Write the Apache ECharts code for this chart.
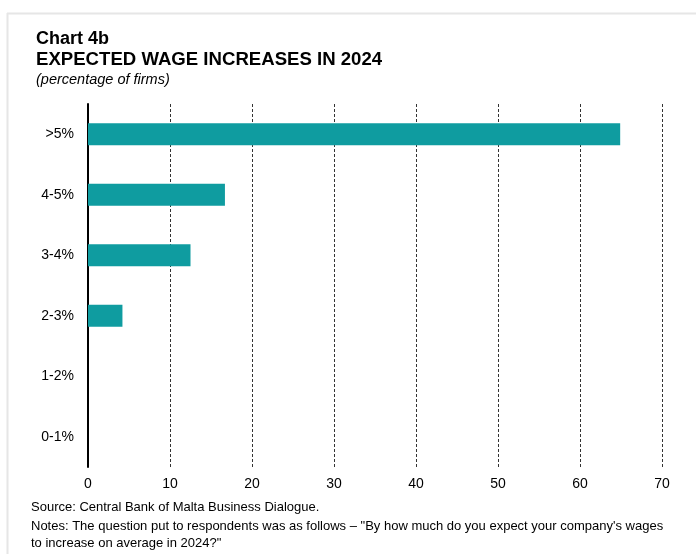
<!DOCTYPE html>
<html>
<head>
<meta charset="utf-8">
<script src="https://cdn.jsdelivr.net/npm/echarts@6/dist/echarts.min.js"></script>
<style>
  html, body { margin: 0; padding: 0; background: #fff; }
  #chart { width: 696px; height: 554px; }
</style>
</head>
<body>
<div id="chart"></div>
<script>
// Expected wage increase bands (bottom to top) and share of firms in each
const categories = ['0-1%', '1-2%', '2-3%', '3-4%', '4-5%', '>5%'];
const shareOfFirms = [0, 0, 4.2, 12.5, 16.7, 64.9];
const xTicks = { min: 0, max: 70, interval: 10 };

const FONT = 'Liberation Sans, Arial, sans-serif';
const chart = echarts.init(document.getElementById('chart'), null, { renderer: 'canvas' });

chart.setOption({
  animation: false,
  backgroundColor: '#ffffff',
  textStyle: { fontFamily: FONT },
  graphic: [
    { type: 'line', shape: { x1: 7, y1: 13.5, x2: 696, y2: 13.5 }, style: { stroke: '#e6e6e6', lineWidth: 2 } },
    { type: 'line', shape: { x1: 7.5, y1: 13, x2: 7.5, y2: 554 }, style: { stroke: '#e6e6e6', lineWidth: 2 } },
    { type: 'text', left: 36, top: 30, style: { text: 'Chart 4b', font: 'bold 18px ' + FONT, fill: '#000' } },
    { type: 'text', left: 36, top: 50, style: { text: 'EXPECTED WAGE INCREASES IN 2024', font: 'bold 18.6px ' + FONT, fill: '#000' } },
    { type: 'text', left: 36, top: 72, style: { text: '(percentage of firms)', font: 'italic 14.5px ' + FONT, fill: '#000' } },
    { type: 'text', left: 31, top: 501, style: { text: 'Source: Central Bank of Malta Business Dialogue.', font: '13px ' + FONT, fill: '#000' } },
    { type: 'text', left: 31, top: 520, style: { text: 'Notes: The question put to respondents was as follows \u2013 "By how much do you expect your company\'s wages', font: '13px ' + FONT, fill: '#000' } },
    { type: 'text', left: 31, top: 537, style: { text: 'to increase on average in 2024?"', font: '13px ' + FONT, fill: '#000' } }
  ],
  grid: { left: 88, right: 34, top: 104, bottom: 87, containLabel: false },
  xAxis: {
    type: 'value',
    min: xTicks.min,
    max: xTicks.max,
    interval: xTicks.interval,
    axisLine: { show: false },
    axisTick: { show: false },
    axisLabel: { color: '#000', fontSize: 14, fontFamily: FONT, margin: 10 },
    splitLine: {
      show: true,
      lineStyle: { color: '#333', type: [3, 2], width: 1 }
    }
  },
  yAxis: {
    type: 'category',
    data: categories,
    axisLine: { show: true, lineStyle: { color: '#000', width: 2 } },
    axisTick: { show: false },
    axisLabel: { color: '#000', fontSize: 14, fontFamily: FONT, margin: 14 }
  },
  series: [{
    type: 'bar',
    data: shareOfFirms,
    barWidth: '36%',
    itemStyle: { color: '#0f9ca0' }
  }]
});
</script>
</body>
</html>
